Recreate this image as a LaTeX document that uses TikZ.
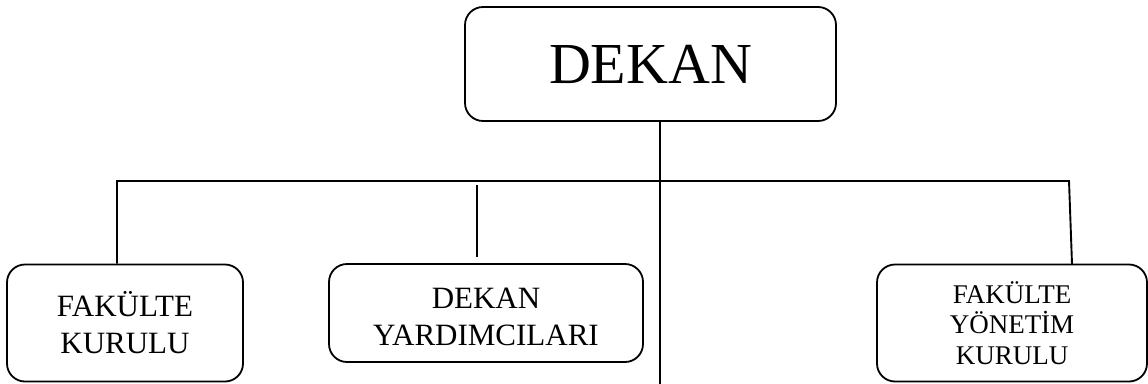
\documentclass[tikz,border=0pt]{standalone}
\usepackage{fontspec}
\setmainfont{Liberation Serif}
\begin{document}
\begin{tikzpicture}[x=1pt,y=-1pt,
  orgbox/.style={draw=black, line width=1.8pt, rounded corners=18pt, inner sep=0pt, align=center},
  conn/.style={draw=black, line width=1.9pt}]
\useasboundingbox (0,0) rectangle (1148,383);
\begin{scope}
\clip (0,0) rectangle (1148,383);
\node[orgbox, minimum width=371pt, minimum height=114pt, font=\fontsize{58}{64}\selectfont] (dekan) at (650.5,64) {DEKAN};
\node[orgbox, minimum width=236pt, minimum height=117pt, font=\fontsize{31}{37}\selectfont] (fk) at (125,323) {FAKÜLTE\\KURULU};
\node[orgbox, minimum width=314pt, minimum height=98pt, font=\fontsize{31}{37}\selectfont] (dy) at (486,313) {\rule{0pt}{29pt}DEKAN\\YARDIMCILARI};
\node[orgbox, minimum width=270pt, minimum height=117pt, font=\fontsize{27}{30.5}\selectfont] (fyk) at (1012,323) {FAKÜLTE\\YÖNETİM\\KURULU};
\coordinate (hl) at (117,181);
\coordinate (hr) at (1069,181);
\coordinate (rd) at (1072,264);
\coordinate (mainend) at (660,384);
\coordinate (s1) at (477,185);
\coordinate (s2) at (477,257);
\draw[conn] (dekan.south -| mainend) -- (mainend);
\draw[conn] (hl |- fk.north) -- (hl) -- (hr) -- (rd);
\draw[conn] (s1) -- (s2);
\end{scope}
\end{tikzpicture}
\end{document}
